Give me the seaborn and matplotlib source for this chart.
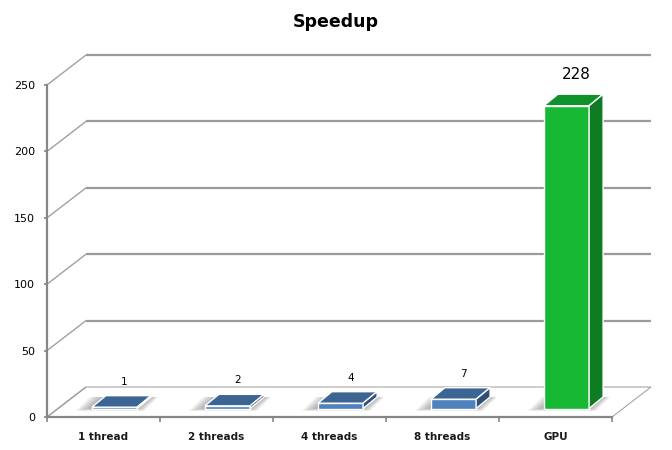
import matplotlib
matplotlib.use("Agg")
import matplotlib.pyplot as plt
from matplotlib.patches import Polygon, Rectangle
import seaborn as sns

# data
categories = ["1 thread", "2 threads", "4 threads", "8 threads", "GPU"]
speedup = [1, 2, 4, 7, 228]
bar_colors = ["#4F81BD", "#4F81BD", "#4F81BD", "#4F81BD", "#17B934"]
top_colors = ["#3D6593", "#3D6593", "#3D6593", "#3D6593", "#10922A"]
side_colors = ["#2F4F78", "#2F4F78", "#2F4F78", "#2F4F78", "#0F7C23"]
yticks = [0, 50, 100, 150, 200, 250]

W, H = 672, 450
AX_L, AX_R, AX_B, AX_T = 47, 612, 417, 85
YMAX = 250

sns.set_theme(style="white")
plt.rcParams["font.family"] = ["DejaVu Sans"]

fig = plt.figure(figsize=(W / 100, H / 100), dpi=100)
ax = fig.add_axes([AX_L / W, (H - AX_B) / H, (AX_R - AX_L) / W, (AX_B - AX_T) / H])

# pixel -> data unit helpers
ux = len(categories) / (AX_R - AX_L)
uy = YMAX / (AX_B - AX_T)
BX, BY = 39 * ux, 30 * uy       # depth of the floor / back wall
FX, FY = 11 * ux, 8.5 * uy      # where the bars stand inside the depth
DX, DY = 14 * ux, 11.5 * uy     # depth of a bar
x0, x1 = -0.5, len(categories) - 0.5

grid_col = "#9A9A9A"
axis_col = "#868686"

sns.barplot(x=categories, y=speedup, hue=categories, palette=bar_colors,
            width=0.40, legend=False, ax=ax, zorder=3, saturation=1)
bars = [p for p in ax.patches if isinstance(p, Rectangle)]

# floor
ax.add_patch(Polygon([(x0, 0), (x1, 0), (x1 + BX, BY), (x0 + BX, BY)],
                     closed=True, facecolor="white", edgecolor="#A6A6A6",
                     lw=0.8, zorder=0.5, clip_on=False))

# back wall gridlines and the diagonals from the value axis
for v in yticks:
    ax.plot([x0, x0 + BX], [v, v + BY], color="#A0A0A0", lw=1.0,
            zorder=0.6, clip_on=False, solid_capstyle="butt")
    if v > 0:
        ax.plot([x0 + BX, x1 + BX], [v + BY, v + BY], color=grid_col, lw=1.6,
                zorder=0.6, clip_on=False, solid_capstyle="butt")

for bar, tcol, scol, val in zip(bars, top_colors, side_colors, speedup):
    bx0 = bar.get_x() + FX
    bx1 = bx0 + bar.get_width()
    h = bar.get_height()
    # soft shadow on the floor, darker close to the bar
    for k in range(7):
        e = (k + 1) * 2.0 * ux
        ax.add_patch(Polygon([(bx0 - e - 2 * ux, FY - 0.4 * k * uy), (bx1 + 0.5 * e, FY - 0.4 * k * uy),
                              (bx1 + DX + 0.5 * e, FY + DY), (bx0 + DX - e - 2 * ux, FY + DY)],
                             closed=True, facecolor="#6E6E6E", edgecolor="none",
                             alpha=0.09, zorder=1, clip_on=False))
    bar.set_x(bx0)
    bar.set_y(FY)
    bar.set_edgecolor("white")
    bar.set_linewidth(1.0)
    bar.set_clip_on(False)
    # top face
    ax.add_patch(Polygon([(bx0, FY + h), (bx1, FY + h), (bx1 + DX, FY + h + DY), (bx0 + DX, FY + h + DY)],
                         closed=True, facecolor=tcol, edgecolor="white", lw=1.0,
                         zorder=3.1, clip_on=False))
    # side face
    ax.add_patch(Polygon([(bx1, FY), (bx1 + DX, FY + DY), (bx1 + DX, FY + h + DY), (bx1, FY + h)],
                         closed=True, facecolor=scol, edgecolor="white", lw=1.0,
                         zorder=3.1, clip_on=False))
    big = val == max(speedup)
    ax.annotate(str(val), ((bx0 + bx1) / 2 + DX / 2, FY + h + DY),
                xytext=(2, 11 if big else 8), textcoords="offset points",
                ha="center", va="baseline", fontsize=11 if big else 7.5,
                color="black", zorder=5, annotation_clip=False)

ax.set_xlim(x0, x1)
ax.set_ylim(0, YMAX)
ax.set_yticks(yticks)
ax.set_yticklabels([str(v) for v in yticks], fontsize=8, color="black")
ax.set_xticks(range(len(categories)))
ax.set_xticklabels(categories, fontsize=7.5, fontweight="bold", color="#1A1A1A")
ax.set_xticks([i - 0.5 for i in range(len(categories) + 1)], minor=True)
ax.tick_params(axis="x", which="major", length=0, pad=11)
ax.tick_params(axis="x", which="minor", length=3.5, width=1.2, color=axis_col, direction="out", bottom=True)
ax.tick_params(axis="y", which="major", length=2.5, width=1.2, color=axis_col, direction="out", left=True, pad=6)
ax.set_xlabel("")
ax.set_ylabel("")
ax.patch.set_alpha(0)

for side in ["top", "right"]:
    ax.spines[side].set_visible(False)
for side in ["left", "bottom"]:
    ax.spines[side].set_color(axis_col)
    ax.spines[side].set_linewidth(1.6)
    ax.spines[side].set_zorder(4)

fig.text(0.5, 1 - 22 / H, "Speedup", ha="center", va="center",
         fontsize=12.5, fontweight="bold", color="black")

fig.savefig("out.png", dpi=100, facecolor="white")
